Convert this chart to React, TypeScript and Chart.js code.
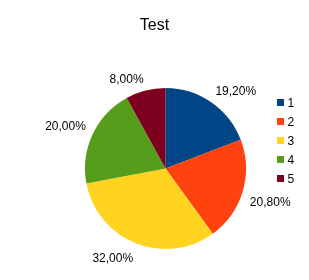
import React, { useEffect, useRef } from "react";
import { Chart, registerables } from "chart.js";

Chart.register(...registerables);

const titleText = "Test";
const categories = ["1", "2", "3", "4", "5"];
const values = [19.2, 20.8, 32, 20, 8];
const colors = ["#004586", "#ff420e", "#ffd320", "#579d1c", "#7e0021"];

const FONT = '"Liberation Sans", Arial, sans-serif';

const overlayPlugin = {
  id: "overlay",
  afterDraw(chart: any) {
    const ctx = chart.ctx as CanvasRenderingContext2D;
    const meta = chart.getDatasetMeta(0);
    const total = values.reduce((a, b) => a + b, 0);
    ctx.save();
    // title
    ctx.fillStyle = "#000";
    ctx.font = `16px ${FONT}`;
    ctx.textAlign = "center";
    ctx.textBaseline = "alphabetic";
    ctx.fillText(titleText, chart.width / 2, 30);

    // slice labels
    ctx.font = `12px ${FONT}`;
    meta.data.forEach((arc: any, i: number) => {
      const p = arc.getProps(["x", "y", "startAngle", "endAngle", "outerRadius"], true);
      const mid = (p.startAngle + p.endAngle) / 2;
      const r = p.outerRadius + 7.5;
      const ax = p.x + Math.cos(mid) * r;
      const ay = p.y + Math.sin(mid) * r;
      const right = Math.cos(mid) >= 0;
      const below = Math.sin(mid) > 0;
      ctx.textAlign = right ? "left" : "right";
      const by = below ? ay + 12 : ay - 0.7;
      const txt = ((values[i] / total) * 100).toFixed(2).replace(".", ",") + "%";
      ctx.fillText(txt, ax, by);
    });

    // legend
    ctx.textAlign = "left";
    categories.forEach((c, i) => {
      const cy = 102.5 + i * 19;
      ctx.fillStyle = colors[i];
      ctx.fillRect(277, cy - 3.5, 7, 7);
      ctx.fillStyle = "#000";
      ctx.fillText(c, 287.5, cy + 4.5);
    });
    ctx.restore();
  },
};

export default function App() {
  const ref = useRef<HTMLCanvasElement | null>(null);
  useEffect(() => {
    if (!ref.current) return;
    const chart = new Chart(ref.current, {
      type: "pie",
      data: {
        labels: categories,
        datasets: [
          {
            data: values,
            backgroundColor: colors,
            borderWidth: 0,
          },
        ],
      },
      options: {
        animation: false,
        responsive: false,
        maintainAspectRatio: false,
        layout: { padding: { left: 85, right: 63, top: 88, bottom: 31 } },
        plugins: {
          legend: { display: false },
          title: { display: false },
          tooltip: { enabled: false },
        },
      },
      plugins: [overlayPlugin],
    });
    return () => chart.destroy();
  }, []);
  return (
    <div style={{ position: "fixed", left: 0, top: 0, width: 309, height: 280, background: "#fff" }}>
      <canvas ref={ref} width={309} height={280} style={{ display: "block" }} />
    </div>
  );
}
